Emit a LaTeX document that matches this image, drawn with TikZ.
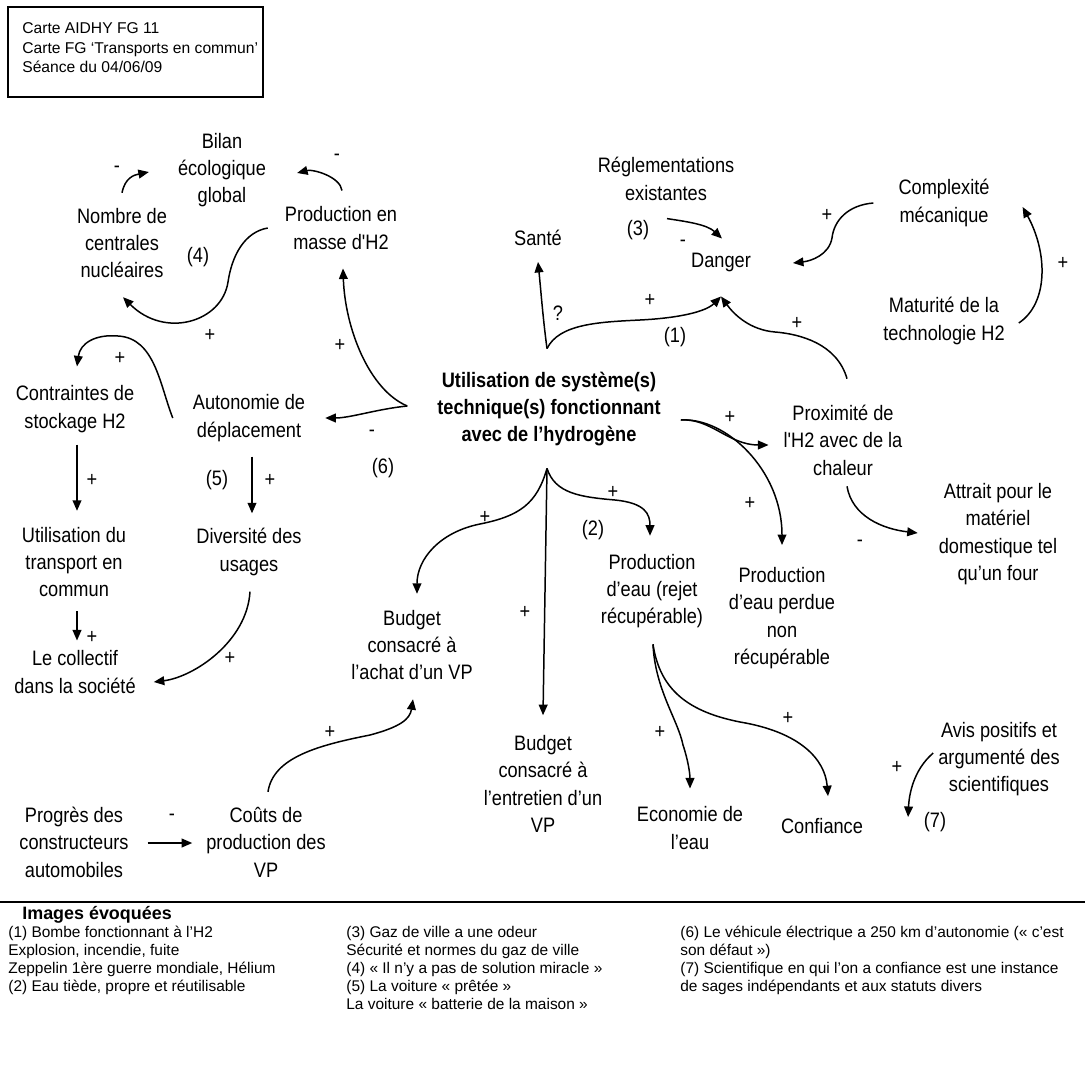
\documentclass[tikz,border=0pt]{standalone}
\usepackage{fontspec}
\setmainfont{Liberation Sans}
\newfontfamily\mapfont{Liberation Sans}[FakeStretch=0.87]
\usetikzlibrary{arrows.meta,positioning}

\begin{document}
\begin{tikzpicture}[x=0.02cm,y=-0.02cm,
  concept/.style={align=center,inner sep=1pt,font=\mapfont\fontsize{11.9}{15.6}\selectfont},
  sign/.style={inner sep=1pt,font=\mapfont\fontsize{11.9}{12}\selectfont},
  link/.style={line width=0.85pt,-{Triangle[length=6pt,width=5pt]}},
  hdrbox/.style={draw,line width=1pt,minimum width=5.1cm,minimum height=1.8cm,inner sep=0pt},
  legend/.style={anchor=north west,align=left,inner sep=0pt,font=\fontsize{8.8}{10.2}\selectfont}]
  \useasboundingbox (0,0) rectangle (1085,1072);

  \node[hdrbox] (hdr) at (135.5,52) {};
  \node[anchor=west,align=left,inner sep=0pt,font=\fontsize{8.9}{11.1}\selectfont] (hdrtxt) at (22,48)
    {Carte AIDHY FG 11\\Carte FG `Transports en commun'\\Séance du 04/06/09};

  % concepts
  \node[concept] (bilan) at (222,170) {Bilan\\écologique\\global};
  \node[concept] (nombre) at (122,243) {Nombre de\\centrales\\nucléaires};
  \node[concept] (masse) at (341,228) {Production en\\masse d'H2};
  \node[concept] (sante) at (538,238) {Santé};
  \node[concept] (regl) at (666,179) {Réglementations\\existantes};
  \node[concept] (danger) at (721,262) {Danger};
  \node[concept] (complex) at (944,203) {Complexité\\mécanique};
  \node[concept] (matur) at (944,321) {Maturité de la\\technologie H2};
  \node[concept,font=\mapfont\fontsize{11.9}{15.6}\selectfont\bfseries] (main) at (549,409)
    {Utilisation de système(s)\\technique(s) fonctionnant\\avec de l’hydrogène};
  \node[concept] (contr) at (75,409) {Contraintes de\\stockage H2};
  \node[concept] (auton) at (249,418) {Autonomie de\\déplacement};
  \node[concept] (proxi) at (843,440) {Proximité de\\l'H2 avec de la\\chaleur};
  \node[concept] (utrans) at (74,562) {Utilisation du\\transport en\\commun};
  \node[concept] (divers) at (249,552) {Diversité des\\usages};
  \node[concept] (collec) at (75,672) {Le collectif\\dans la société};
  \node[concept] (bachat) at (412,645) {Budget\\consacré à\\l’achat d’un VP};
  \node[concept] (eaurej) at (652,591) {Production\\d’eau (rejet\\récupérable)};
  \node[concept] (eauperd) at (782,618) {Production\\d’eau perdue\\non\\récupérable};
  \node[concept] (attrait) at (998,534) {Attrait pour le\\matériel\\domestique tel\\qu’un four};
  \node[concept] (bentr) at (543,784) {Budget\\consacré à\\l’entretien d’un\\VP};
  \node[concept] (econ) at (690,828) {Economie de\\l’eau};
  \node[concept] (confi) at (822,826) {Confiance};
  \node[concept] (avis) at (999,759) {Avis positifs et\\argumenté des\\scientifiques};
  \node[concept] (progr) at (74,842) {Progrès des\\constructeurs\\automobiles};
  \node[concept] (couts) at (266,842) {Coûts de\\production des\\VP};

  % links
  \draw[link] ([shift={(0,-13)}]nombre.north) .. controls +(3,-15) and +(-15,3) .. ([shift={(-27,2)}]bilan.west);
  \draw[link] ([shift={(1,-14)}]masse.north) .. controls +(-2,-14) and +(16,-4) .. ([shift={(29,3)}]bilan.east);
  \draw[link] ([shift={(-15,0)}]masse.west) .. controls +(-23,4) and +(4,-27) .. (228,282)
    .. controls +(-6,40) and +(42,42) .. ([shift={(1,17)}]nombre.south);
  \draw[link] ([shift={(-18,0)}]auton.west) .. controls +(-13,-33) and +(37,2) .. (118,336)
    .. controls +(-23,-2) and +(3,-23) .. ([shift={(2,-17)}]contr.north);
  \draw[link] ([shift={(-28,-3)}]main.west) .. controls +(-30,3) and +(25,0) .. ([shift={(18,0)}]auton.east);
  \draw[link] ([shift={(-28,-3)}]main.west) .. controls +(-38,-16) and +(2,60) .. ([shift={(2,17)}]masse.south);
  \draw[link] ([shift={(-2,-21)}]main.north) .. controls +(-4,-30) and +(3,30) .. ([shift={(0,14)}]sante.south);
  \draw[link] ([shift={(-2,-21)}]main.north) .. controls +(12,-25) and +(-40,2) .. (640,320)
    .. controls +(40,-2) and +(-15,15) .. ([shift={(0,23)}]danger.south);
  \draw[link] ([shift={(4,-24)}]proxi.north) .. controls +(-10,-35) and +(25,2) .. (775,332)
    .. controls +(-25,-2) and +(13,18) .. ([shift={(0,23)}]danger.south);
  \draw[link] ([shift={(1,16)}]regl.south) .. controls +(20,3) and +(-15,-14) .. ([shift={(1,-12)}]danger.north);
  \draw[link] ([shift={(-23,0)}]complex.west) .. controls +(-25,2) and +(2,-18) .. (832,238)
    .. controls +(-3,17) and +(18,-2) .. ([shift={(40,1)}]danger.east);
  \draw[link] ([shift={(12,2)}]matur.east) .. controls +(30,-20) and +(25,45) .. ([shift={(31,4)}]complex.east);
  \draw[link] ([shift={(18,11)}]main.east) .. controls +(30,-2) and +(-40,0) .. ([shift={(-13,5)}]proxi.west);
  \draw[link] ([shift={(18,11)}]main.east) .. controls +(45,-3) and +(0,-75) .. ([shift={(0,-20)}]eauperd.north);
  \draw[link] ([shift={(4,9)}]proxi.south) .. controls +(5,30) and +(-35,-4) .. ([shift={(-19,-1)}]attrait.west);
  \draw[link] ([shift={(-2,20)}]main.south) .. controls +(-10,35) and +(40,-8) .. (480,524)
    .. controls +(-40,8) and +(0,-35) .. ([shift={(5,-14)}]bachat.north);
  \draw[link] ([shift={(-2,20)}]main.south) -- ([shift={(0,-18)}]bentr.north);
  \draw[link] ([shift={(-2,20)}]main.south) .. controls +(8,25) and +(-35,-3) .. (615,500)
    .. controls +(30,3) and +(0,-22) .. ([shift={(-2,-16)}]eaurej.north);
  \draw[link] ([shift={(1,14)}]eaurej.south) .. controls +(2,45) and +(-5,-25) .. (683,745)
    .. controls +(5,15) and +(0,-15) .. ([shift={(0,-16)}]econ.north);
  \draw[link] ([shift={(1,14)}]eaurej.south) .. controls +(7,47) and +(-50,-10) .. (740,722)
    .. controls +(60,10) and +(-3,-37) .. ([shift={(6,-20)}]confi.north);
  \draw[link] ([shift={(-3,-6)}]avis.west) .. controls +(-20,17) and +(1,-22) .. ([shift={(43,-9)}]confi.east);
  \draw[link] ([shift={(2,10)}]contr.south) -- ([shift={(3,-14)}]utrans.north);
  \draw[link] ([shift={(3,13)}]auton.south) -- ([shift={(3,-13)}]divers.north);
  \draw[link] ([shift={(3,12)}]utrans.south) -- ([shift={(2,-8)}]collec.north);
  \draw[link] ([shift={(1,14)}]divers.south) .. controls +(-3,50) and +(40,-5) .. ([shift={(16,10)}]collec.east);
  \draw[link] ([shift={(17,1)}]progr.east) -- ([shift={(-12,1)}]couts.west);
  \draw[link] ([shift={(2,-13)}]couts.north) .. controls +(5,-35) and +(-50,10) .. (370,735)
    .. controls +(30,-8) and +(-3,20) .. ([shift={(1,17)}]bachat.south);

  % signs and marks
  \node[sign] (sgnA) at (117,169) {-};
  \node[sign] (sgnB) at (337,157) {-};
  \node[sign] (ref4) at (198,257) {(4)};
  \node[sign] (sgnC) at (210,335) {+};
  \node[sign] (sgnD) at (120,358) {+};
  \node[sign] (sgnF) at (340,345) {+};
  \node[sign] (sgnE) at (372,433) {-};
  \node[sign] (ref6) at (383,468) {(6)};
  \node[sign] (ref5) at (217,480) {(5)};
  \node[sign] (sgnW) at (270,480) {+};
  \node[sign] (sgnV) at (92,480) {+};
  \node[sign] (sgnX) at (92,637) {+};
  \node[sign] (sgnY) at (230,658) {+};
  \node[sign] (qmark) at (558,313) {?};
  \node[sign] (sgnH) at (650,300) {+};
  \node[sign] (ref1) at (675,337) {(1)};
  \node[sign] (ref3) at (638,230) {(3)};
  \node[sign] (sgnJ) at (683,243) {-};
  \node[sign] (sgnK) at (827,215) {+};
  \node[sign] (sgnL) at (1063,263) {+};
  \node[sign] (sgnI) at (797,323) {+};
  \node[sign] (sgnM) at (730,417) {+};
  \node[sign] (sgnN) at (750,503) {+};
  \node[sign] (sgnO) at (860,543) {-};
  \node[sign] (sgnP) at (485,517) {+};
  \node[sign] (sgnQ) at (525,612) {+};
  \node[sign] (sgnR) at (613,492) {+};
  \node[sign] (ref2) at (593,530) {(2)};
  \node[sign] (sgnS) at (660,732) {+};
  \node[sign] (sgnT) at (788,718) {+};
  \node[sign] (sgnU) at (897,767) {+};
  \node[sign] (ref7) at (935,822) {(7)};
  \node[sign] (sgnZ) at (172,817) {-};
  \node[sign] (sgnAA) at (330,732) {+};

  % legend
  \draw[line width=1.2pt] (0,902) -- (1085,902);
  \node[anchor=west,inner sep=0pt,font=\fontsize{10.2}{12}\selectfont\bfseries] (imgtitle) at (22,915) {Images évoquées};
  \node[legend] (leg1) at (8,926) {(1) Bombe fonctionnant à l'H2\\Explosion, incendie, fuite\\Zeppelin 1ère guerre mondiale, Hélium\\(2) Eau tiède, propre et réutilisable};
  \node[legend] (leg2) at (346,926) {(3) Gaz de ville a une odeur\\Sécurité et normes du gaz de ville\\(4) « Il n’y a pas de solution miracle »\\(5) La voiture « prêtée »\\La voiture « batterie de la maison »};
  \node[legend] (leg3) at (680,926) {(6) Le véhicule électrique a 250 km d’autonomie (« c’est\\son défaut »)\\(7) Scientifique en qui l’on a confiance est une instance\\de sages indépendants et aux statuts divers};
\end{tikzpicture}
\end{document}
